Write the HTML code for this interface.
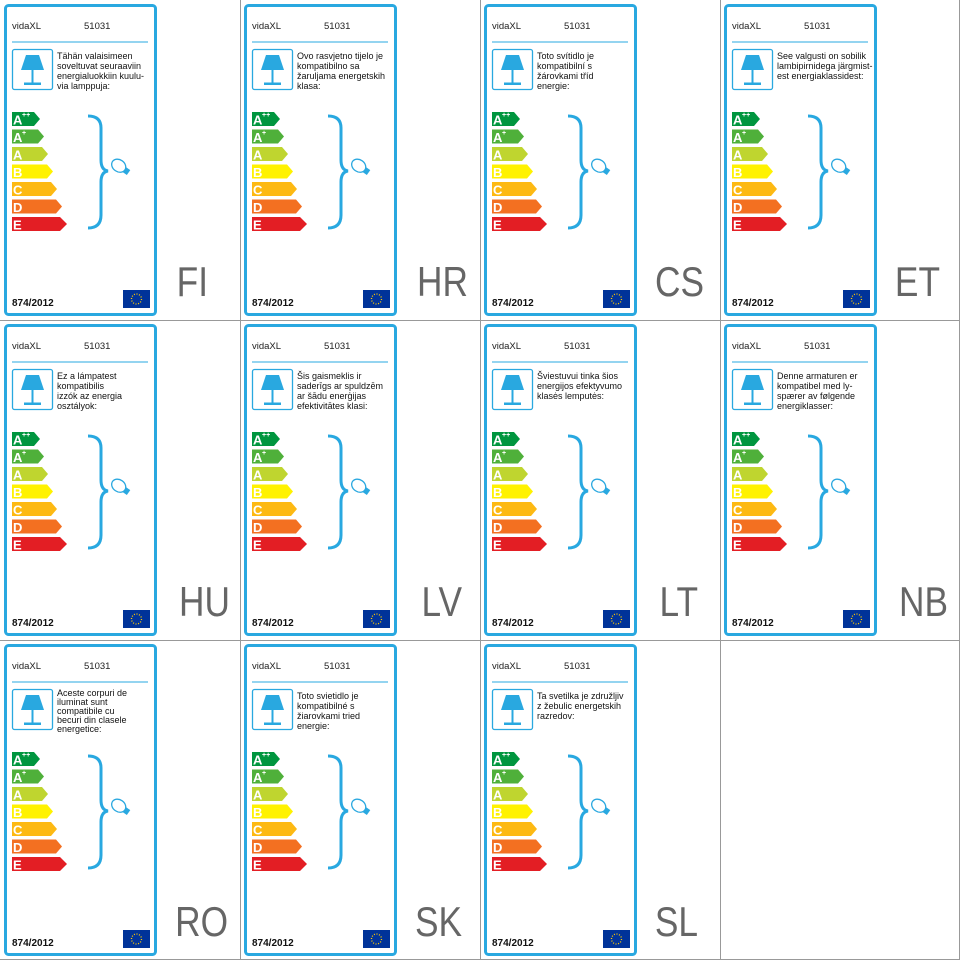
<!DOCTYPE html>
<html><head><meta charset="utf-8"><style>
html,body{margin:0;padding:0;background:#fff}
svg{display:block}
.t{font-family:"Liberation Sans",sans-serif;font-size:9px;fill:#111}
.h{font-family:"Liberation Sans",sans-serif;font-size:9.5px;fill:#222}
.b{font-family:"Liberation Sans",sans-serif;font-size:10px;font-weight:bold;fill:#111}
.l{font-family:"Liberation Sans",sans-serif;font-size:13px;font-weight:bold;fill:#fff}
.big{font-family:"Liberation Sans",sans-serif;font-size:42px;fill:#666}
</style></head><body>
<svg width="960" height="960" xmlns="http://www.w3.org/2000/svg" xmlns:xlink="http://www.w3.org/1999/xlink">
<defs>
<g id="lab">
<rect x="5.5" y="5.5" width="150" height="309" rx="3" fill="#fff" stroke="#29a8e0" stroke-width="3"/>
<line x1="12" y1="42" x2="148" y2="42" stroke="#29a8e0" stroke-width="1"/>
<rect x="12.5" y="49.5" width="40" height="40" rx="2" fill="#fff" stroke="#29a8e0" stroke-width="1.3"/>
<polygon points="26,55 39,55 44,70 21,70" fill="#29a8e0"/>
<rect x="31.5" y="70" width="2" height="13" fill="#29a8e0"/>
<rect x="24" y="82.5" width="17" height="2.5" fill="#29a8e0"/>
<polygon points="12,112 34,112 40,119 34,126 12,126" fill="#00963f"/>
<polygon points="12,129.5 38,129.5 44,136.5 38,143.5 12,143.5" fill="#4fb03a"/>
<polygon points="12,147 42,147 48,154 42,161 12,161" fill="#bfd52f"/>
<polygon points="12,164.5 47,164.5 53,171.5 47,178.5 12,178.5" fill="#fff200"/>
<polygon points="12,182 51,182 57,189 51,196 12,196" fill="#fdb913"/>
<polygon points="12,199.5 56,199.5 62,206.5 56,213.5 12,213.5" fill="#f37021"/>
<polygon points="12,217 60,217 67,224 60,231 12,231" fill="#e31e24"/>
<path d="M88,116 Q101,116 101,128 L101,160 Q101,170 108,171 Q101,172 101,182 L101,215 Q101,228 88,228" fill="none" stroke="#29a8e0" stroke-width="3"/>
<g transform="rotate(-55 122 168)"><ellipse cx="122" cy="164" rx="6" ry="7.5" fill="#fff" stroke="#29a8e0" stroke-width="1.3"/><rect x="119" y="171" width="6" height="5" fill="#29a8e0"/></g>
<rect x="123" y="290" width="27" height="18" fill="#003399"/>
<circle cx="136.5" cy="299" r="5" fill="none" stroke="#ffcc00" stroke-width="1.3" stroke-dasharray="1 1.6"/>
</g>
<g id="let">
<text class="l" x="13" y="124.5">A</text><text x="22" y="117" style="font:bold 7px 'Liberation Sans',sans-serif;fill:#fff">++</text>
<text class="l" x="13" y="142">A</text><text x="22" y="135" style="font:bold 7px 'Liberation Sans',sans-serif;fill:#fff">+</text>
<text class="l" x="13" y="159.5">A</text>
<text class="l" x="13" y="177">B</text>
<text class="l" x="13" y="194.5">C</text>
<text class="l" x="13" y="212">D</text>
<text class="l" x="13" y="229.5">E</text>
</g>
</defs>
<g stroke="#999" stroke-width="1">
<line x1="240.5" y1="0" x2="240.5" y2="960"/><line x1="480.5" y1="0" x2="480.5" y2="960"/><line x1="720.5" y1="0" x2="720.5" y2="960"/><line x1="959.5" y1="0" x2="959.5" y2="960"/>
<line x1="0" y1="320.5" x2="960" y2="320.5"/><line x1="0" y1="640.5" x2="960" y2="640.5"/><line x1="0" y1="959.5" x2="960" y2="959.5"/>
</g>

<g transform="translate(0,0)"><use xlink:href="#lab"/><use xlink:href="#let"/>
<text class="h" x="12" y="29">vidaXL</text><text class="h" x="84" y="29">51031</text>
<text class="t" x="57" y="59">Tähän valaisimeen</text><text class="t" x="57" y="69">soveltuvat seuraaviin</text><text class="t" x="57" y="79">energialuokkiin kuulu-</text><text class="t" x="57" y="89">via lamppuja:</text>
<text class="b" x="12" y="306">874/2012</text><text class="big" transform="translate(208,296) scale(0.84,1)" text-anchor="end">FI</text></g>

<g transform="translate(240,0)"><use xlink:href="#lab"/><use xlink:href="#let"/>
<text class="h" x="12" y="29">vidaXL</text><text class="h" x="84" y="29">51031</text>
<text class="t" x="57" y="59">Ovo rasvjetno tijelo je</text><text class="t" x="57" y="69">kompatibilno sa</text><text class="t" x="57" y="79">žaruljama energetskih</text><text class="t" x="57" y="89">klasa:</text>
<text class="b" x="12" y="306">874/2012</text><text class="big" transform="translate(228,296) scale(0.84,1)" text-anchor="end">HR</text></g>

<g transform="translate(480,0)"><use xlink:href="#lab"/><use xlink:href="#let"/>
<text class="h" x="12" y="29">vidaXL</text><text class="h" x="84" y="29">51031</text>
<text class="t" x="57" y="59">Toto svítidlo je</text><text class="t" x="57" y="69">kompatibilní s</text><text class="t" x="57" y="79">žárovkami tříd</text><text class="t" x="57" y="89">energie:</text>
<text class="b" x="12" y="306">874/2012</text><text class="big" transform="translate(224,296) scale(0.84,1)" text-anchor="end">CS</text></g>

<g transform="translate(720,0)"><use xlink:href="#lab"/><use xlink:href="#let"/>
<text class="h" x="12" y="29">vidaXL</text><text class="h" x="84" y="29">51031</text>
<text class="t" x="57" y="59">See valgusti on sobilik</text><text class="t" x="57" y="69">lambipirnidega järgmist-</text><text class="t" x="57" y="79">est energiaklassidest:</text>
<text class="b" x="12" y="306">874/2012</text><text class="big" transform="translate(220,296) scale(0.84,1)" text-anchor="end">ET</text></g>

<g transform="translate(0,320)"><use xlink:href="#lab"/><use xlink:href="#let"/>
<text class="h" x="12" y="29">vidaXL</text><text class="h" x="84" y="29">51031</text>
<text class="t" x="57" y="59">Ez a lámpatest</text><text class="t" x="57" y="69">kompatibilis</text><text class="t" x="57" y="79">izzók az energia</text><text class="t" x="57" y="89">osztályok:</text>
<text class="b" x="12" y="306">874/2012</text><text class="big" transform="translate(230,296) scale(0.84,1)" text-anchor="end">HU</text></g>

<g transform="translate(240,320)"><use xlink:href="#lab"/><use xlink:href="#let"/>
<text class="h" x="12" y="29">vidaXL</text><text class="h" x="84" y="29">51031</text>
<text class="t" x="57" y="59">Šis gaismeklis ir</text><text class="t" x="57" y="69">saderīgs ar spuldzēm</text><text class="t" x="57" y="79">ar šādu enerģijas</text><text class="t" x="57" y="89">efektivitātes klasi:</text>
<text class="b" x="12" y="306">874/2012</text><text class="big" transform="translate(222,296) scale(0.84,1)" text-anchor="end">LV</text></g>

<g transform="translate(480,320)"><use xlink:href="#lab"/><use xlink:href="#let"/>
<text class="h" x="12" y="29">vidaXL</text><text class="h" x="84" y="29">51031</text>
<text class="t" x="57" y="59">Šviestuvui tinka šios</text><text class="t" x="57" y="69">energijos efektyvumo</text><text class="t" x="57" y="79">klasės lemputės:</text>
<text class="b" x="12" y="306">874/2012</text><text class="big" transform="translate(218,296) scale(0.84,1)" text-anchor="end">LT</text></g>

<g transform="translate(720,320)"><use xlink:href="#lab"/><use xlink:href="#let"/>
<text class="h" x="12" y="29">vidaXL</text><text class="h" x="84" y="29">51031</text>
<text class="t" x="57" y="59">Denne armaturen er</text><text class="t" x="57" y="69">kompatibel med ly-</text><text class="t" x="57" y="79">spærer av følgende</text><text class="t" x="57" y="89">energiklasser:</text>
<text class="b" x="12" y="306">874/2012</text><text class="big" transform="translate(228,296) scale(0.84,1)" text-anchor="end">NB</text></g>

<g transform="translate(0,640)"><use xlink:href="#lab"/><use xlink:href="#let"/>
<text class="h" x="12" y="29">vidaXL</text><text class="h" x="84" y="29">51031</text>
<text class="t" x="57" y="56">Aceste corpuri de</text><text class="t" x="57" y="65">iluminat sunt</text><text class="t" x="57" y="74">compatibile cu</text><text class="t" x="57" y="83">becuri din clasele</text><text class="t" x="57" y="92">energetice:</text>
<text class="b" x="12" y="306">874/2012</text><text class="big" transform="translate(228,296) scale(0.84,1)" text-anchor="end">RO</text></g>

<g transform="translate(240,640)"><use xlink:href="#lab"/><use xlink:href="#let"/>
<text class="h" x="12" y="29">vidaXL</text><text class="h" x="84" y="29">51031</text>
<text class="t" x="57" y="59">Toto svietidlo je</text><text class="t" x="57" y="69">kompatibilné s</text><text class="t" x="57" y="79">žiarovkami tried</text><text class="t" x="57" y="89">energie:</text>
<text class="b" x="12" y="306">874/2012</text><text class="big" transform="translate(222,296) scale(0.84,1)" text-anchor="end">SK</text></g>

<g transform="translate(480,640)"><use xlink:href="#lab"/><use xlink:href="#let"/>
<text class="h" x="12" y="29">vidaXL</text><text class="h" x="84" y="29">51031</text>
<text class="t" x="57" y="59">Ta svetilka je združljiv</text><text class="t" x="57" y="69">z žebulic energetskih</text><text class="t" x="57" y="79">razredov:</text>
<text class="b" x="12" y="306">874/2012</text><text class="big" transform="translate(218,296) scale(0.84,1)" text-anchor="end">SL</text></g>
</svg>
</body></html>
